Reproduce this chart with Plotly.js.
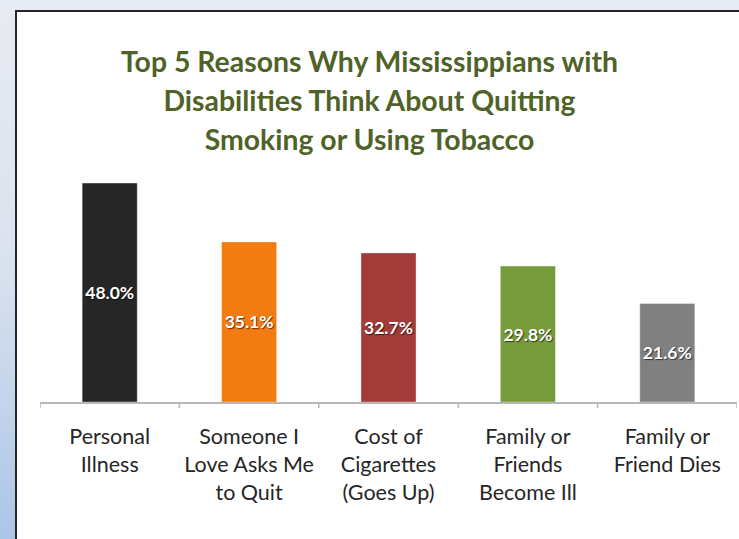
<!DOCTYPE html>
<html>
<head>
<meta charset="utf-8">
<script src="https://cdn.plot.ly/plotly-3.0.1.min.js"></script>
<style>
  html, body { margin: 0; padding: 0; overflow: hidden; }
  body {
    position: relative;
    width: 739px; height: 539px;
    background: linear-gradient(to bottom, #e7ebf3 0%, #dbe3f0 45%, #c3d4eb 75%, #abc5e8 100%);
  }
  #panel {
    position: absolute; left: 15px; top: 10px;
    width: 724px; height: 529px;
    background: #ffffff; box-sizing: border-box;
    border-left: 2px solid #262626; border-top: 2px solid #262626;
  }
  #chart { position: absolute; left: 0; top: 0; width: 739px; height: 539px; }
</style>
</head>
<body>
<div id="panel"></div>
<div id="chart"></div>
<script>
const categories = [
  "Personal|Illness",
  "Someone I|Love Asks Me|to Quit",
  "Cost of|Cigarettes|(Goes Up)",
  "Family or|Friends|Become Ill",
  "Family or|Friend Dies"
];
const values = [48.0, 35.1, 32.7, 29.8, 21.6];
const barColors = ["#262626", "#f27b12", "#a33c39", "#779a3a", "#808080"];
const titleLines = [
  "Top 5 Reasons Why Mississippians with",
  "Disabilities Think About Quitting",
  "Smoking or Using Tobacco"
];

const ticktext = categories.map(c => c.split("|").map(s => '<span style="font-size:21.5px">' + s + '</span>').join("<br>"));
const titleText = titleLines.map(s => '<span style="font-size:28.4px">' + s + '</span>').join("<br>");

const trace = {
  type: "bar",
  x: categories.map((c, i) => i),
  y: values,
  text: values.map(v => v.toFixed(1) + "%"),
  textposition: "inside",
  insidetextanchor: "middle",
  textangle: 0,
  constraintext: "none",
  textfont: { family: "Lato, sans-serif", size: 17.5, color: "#ffffff", weight: "bold", shadow: "1px 1px 1px rgba(0,0,0,0.6)" },
  marker: { color: barColors, line: { color: "rgba(255,255,255,0.35)", width: 1 } },
  width: 0.395,
  hoverinfo: "skip"
};

const layout = {
  width: 739, height: 539,
  paper_bgcolor: "rgba(0,0,0,0)",
  plot_bgcolor: "rgba(0,0,0,0)",
  margin: { l: 40, r: 2, t: 174, b: 137, pad: 0 },
  showlegend: false,
  title: {
    text: titleText,
    font: { family: "Lato, sans-serif", size: 30, color: "#4f6228", weight: "bold" },
    x: 0.5, xref: "container", xanchor: "center",
    y: 0.866, yref: "container", yanchor: "top"
  },
  xaxis: {
    type: "linear",
    range: [-0.5, 4.5],
    tickmode: "array",
    tickvals: [0, 1, 2, 3, 4],
    ticktext: ticktext,
    showgrid: false, zeroline: false,
    showline: true, linecolor: "#b8b8b8", linewidth: 1.5,
    ticks: "",
    tickfont: { family: "Lato, sans-serif", size: 21.5, color: "#262626" },
    ticklabelstandoff: 15,
    fixedrange: true
  },
  yaxis: {
    range: [0, 50],
    visible: false,
    fixedrange: true
  },
  shapes: [-0.5, 0.5, 1.5, 2.5, 3.5, 4.5].map(b => ({
      type: "line", xref: "x", yref: "paper", layer: "above",
      x0: b, x1: b, y0: 0, y1: -6 / 228,
      line: { color: "#b8b8b8", width: 1.5 }
  }))
};

Plotly.newPlot("chart", [trace], layout, { displayModeBar: false, staticPlot: true });
</script>
</body>
</html>
